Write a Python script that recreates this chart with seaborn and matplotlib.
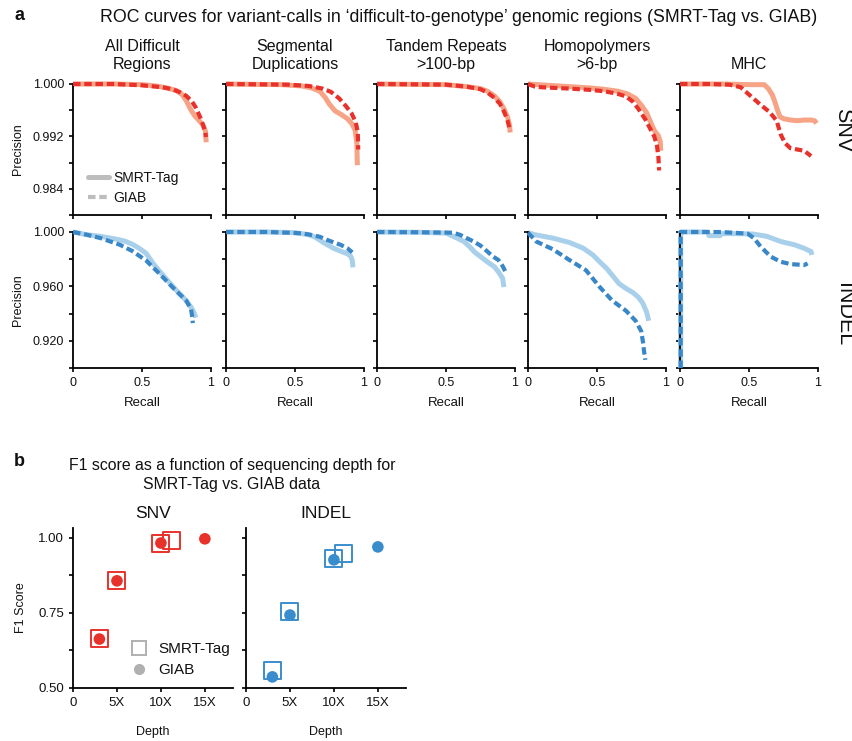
import numpy as np
import pandas as pd
import matplotlib
matplotlib.use("Agg")
import matplotlib.pyplot as plt
from matplotlib.lines import Line2D
import seaborn as sns

# ---------------- data ----------------
regions = ["All Difficult\nRegions", "Segmental\nDuplications", "Tandem Repeats\n>100-bp",
           "Homopolymers\n>6-bp", "MHC"]

# SNV (SMRT-Tag / GIAB)  recall, precision
snv_all_smrt_r = [0, 0.3, 0.5, 0.6, 0.68, 0.75, 0.79, 0.82, 0.85, 0.88, 0.91, 0.94, 0.96, 0.965]
snv_all_smrt_p = [1.0, 1.0, 0.9999, 0.9997, 0.9994, 0.9990, 0.9984, 0.9975, 0.9962, 0.9952, 0.9945, 0.9938, 0.9928, 0.9911]
snv_all_giab_r = [0, 0.3, 0.5, 0.65, 0.72, 0.78, 0.82, 0.86, 0.89, 0.92, 0.945, 0.96, 0.963]
snv_all_giab_p = [1.0, 1.0, 0.9998, 0.9995, 0.9992, 0.9987, 0.9982, 0.9974, 0.9964, 0.9950, 0.9936, 0.9926, 0.9919]

snv_seg_smrt_r = [0, 0.4, 0.55, 0.62, 0.68, 0.72, 0.75, 0.79, 0.83, 0.88, 0.91, 0.935, 0.948, 0.952]
snv_seg_smrt_p = [1.0, 0.9999, 0.9997, 0.9994, 0.9989, 0.9979, 0.9969, 0.9959, 0.9954, 0.9947, 0.9940, 0.9930, 0.9910, 0.9876]
snv_seg_giab_r = [0, 0.45, 0.6, 0.7, 0.76, 0.82, 0.87, 0.91, 0.94, 0.955, 0.958]
snv_seg_giab_p = [1.0, 0.9999, 0.9997, 0.9993, 0.9988, 0.9978, 0.9966, 0.9955, 0.9942, 0.9926, 0.9900]

snv_tr_smrt_r = [0, 0.5, 0.65, 0.75, 0.80, 0.85, 0.89, 0.92, 0.945, 0.96, 0.965]
snv_tr_smrt_p = [1.0, 0.9999, 0.9996, 0.9993, 0.9989, 0.9982, 0.9973, 0.9962, 0.9950, 0.9938, 0.9926]
snv_tr_giab_r = [0, 0.5, 0.65, 0.75, 0.80, 0.85, 0.89, 0.92, 0.945, 0.958, 0.962]
snv_tr_giab_p = [1.0, 0.9999, 0.9996, 0.9992, 0.9987, 0.9979, 0.9970, 0.9958, 0.9945, 0.9934, 0.9928]

snv_hp_smrt_r = [0, 0.15, 0.3, 0.45, 0.55, 0.65, 0.72, 0.78, 0.82, 0.86, 0.88, 0.915, 0.945, 0.958, 0.962]
snv_hp_smrt_p = [1.0, 0.9998, 0.9996, 0.9994, 0.9992, 0.9989, 0.9985, 0.9978, 0.9968, 0.9956, 0.9946, 0.9929, 0.9921, 0.9912, 0.9898]
snv_hp_giab_r = [0, 0.05, 0.1, 0.3, 0.45, 0.55, 0.65, 0.71, 0.76, 0.8, 0.85, 0.89, 0.915, 0.935, 0.945, 0.95]
snv_hp_giab_p = [1.0, 0.9996, 0.9995, 0.9993, 0.9991, 0.9989, 0.9985, 0.9981, 0.9973, 0.9962, 0.9946, 0.9930, 0.9920, 0.9905, 0.9888, 0.9868]

snv_mhc_smrt_r = [0, 0.3, 0.5, 0.61, 0.64, 0.67, 0.69, 0.71, 0.725, 0.75, 0.8, 0.85, 0.9, 0.95, 0.975, 0.99]
snv_mhc_smrt_p = [1.0, 1.0, 0.9999, 0.9999, 0.9993, 0.9983, 0.9971, 0.9958, 0.9950, 0.9947, 0.9945, 0.9944, 0.9945, 0.9945, 0.9944, 0.9940]
snv_mhc_giab_r = [0, 0.2, 0.36, 0.44, 0.51, 0.58, 0.65, 0.7, 0.73, 0.76, 0.8, 0.85, 0.9, 0.95]
snv_mhc_giab_p = [1.0, 1.0, 0.9999, 0.9995, 0.9982, 0.9969, 0.9957, 0.9944, 0.9923, 0.9910, 0.9902, 0.9900, 0.9898, 0.9890]

# INDEL
ind_all_smrt_r = [0, 0.1, 0.2, 0.3, 0.37, 0.43, 0.48, 0.53, 0.58, 0.62, 0.68, 0.75, 0.82, 0.86, 0.88, 0.89]
ind_all_smrt_p = [1.0, 0.998, 0.9968, 0.995, 0.9935, 0.991, 0.988, 0.9843, 0.977, 0.972, 0.965, 0.957, 0.9496, 0.944, 0.940, 0.937]
ind_all_giab_r = [0, 0.1, 0.2, 0.34, 0.43, 0.53, 0.63, 0.72, 0.82, 0.855, 0.865, 0.868]
ind_all_giab_p = [1.0, 0.998, 0.9955, 0.9906, 0.986, 0.979, 0.969, 0.9595, 0.9496, 0.9434, 0.937, 0.933]

ind_seg_smrt_r = [0, 0.3, 0.5, 0.6, 0.65, 0.71, 0.78, 0.84, 0.88, 0.905, 0.915, 0.92]
ind_seg_smrt_p = [1.0, 1.0, 0.9995, 0.998, 0.996, 0.992, 0.988, 0.9855, 0.984, 0.982, 0.979, 0.974]
ind_seg_giab_r = [0, 0.3, 0.45, 0.55, 0.61, 0.68, 0.73, 0.79, 0.83, 0.88, 0.915]
ind_seg_giab_p = [1.0, 1.0, 0.9995, 0.999, 0.998, 0.9965, 0.9943, 0.992, 0.9906, 0.988, 0.985]

ind_tr_smrt_r = [0, 0.3, 0.5, 0.58, 0.63, 0.67, 0.71, 0.75, 0.8, 0.85, 0.88, 0.91, 0.92]
ind_tr_smrt_p = [1.0, 0.9998, 0.9992, 0.9955, 0.993, 0.9893, 0.985, 0.9819, 0.978, 0.9745, 0.9707, 0.966, 0.9595]
ind_tr_giab_r = [0, 0.3, 0.55, 0.6, 0.65, 0.70, 0.75, 0.8, 0.84, 0.88, 0.91, 0.93]
ind_tr_giab_p = [1.0, 0.9998, 0.9995, 0.998, 0.9955, 0.993, 0.99, 0.9856, 0.982, 0.9794, 0.975, 0.971]

ind_hp_smrt_r = [0, 0.05, 0.18, 0.3, 0.4, 0.47, 0.52, 0.57, 0.62, 0.66, 0.71, 0.76, 0.8, 0.83, 0.86, 0.875]
ind_hp_smrt_p = [0.9995, 0.998, 0.9955, 0.9923, 0.9881, 0.9831, 0.978, 0.9732, 0.967, 0.962, 0.9585, 0.9555, 0.952, 0.948, 0.941, 0.9347]
ind_hp_giab_r = [0, 0.06, 0.18, 0.3, 0.42, 0.52, 0.61, 0.71, 0.78, 0.82, 0.835, 0.84, 0.85]
ind_hp_giab_p = [0.9995, 0.993, 0.9873, 0.9794, 0.9719, 0.9595, 0.9496, 0.9421, 0.9347, 0.9272, 0.918, 0.913, 0.906]

ind_mhc_smrt_r = [0.005, 0.005, 0.2, 0.21, 0.29, 0.3, 0.41, 0.53, 0.63, 0.73, 0.83, 0.9, 0.95, 0.955]
ind_mhc_smrt_p = [0.9, 1.0, 1.0, 0.9973, 0.9973, 0.9988, 0.9988, 0.9985, 0.9968, 0.993, 0.9906, 0.988, 0.9856, 0.9831]
ind_mhc_giab_r = [0.005, 0.005, 0.3, 0.49, 0.535, 0.584, 0.657, 0.73, 0.8, 0.9, 0.925]
ind_mhc_giab_p = [0.9, 1.0, 1.0, 0.9988, 0.9955, 0.9893, 0.9819, 0.9781, 0.9764, 0.9757, 0.9769]

# Part b: F1 vs depth
depth_ticks = [0, 5, 10, 15]
depth_labels = ["0", "5X", "10X", "15X"]
snv_f1_smrt_depth = [3, 5, 10, 11.2]
snv_f1_smrt = [0.665, 0.857, 0.983, 0.99]
snv_f1_giab_depth = [3, 5, 10, 15]
snv_f1_giab = [0.663, 0.857, 0.983, 0.997]
ind_f1_smrt_depth = [3, 5, 10, 11.1]
ind_f1_smrt = [0.557, 0.756, 0.932, 0.947]
ind_f1_giab_depth = [3, 5, 10, 15]
ind_f1_giab = [0.537, 0.743, 0.927, 0.97]

# ---------------- style ----------------
sns.set_style("ticks")
plt.rcParams["font.family"] = ["Liberation Sans", "DejaVu Sans"]
plt.rcParams["axes.linewidth"] = 1.3
plt.rcParams["axes.edgecolor"] = "black"
plt.rcParams["text.color"] = "#111111"
plt.rcParams["axes.labelcolor"] = "#111111"
plt.rcParams["xtick.color"] = "black"
plt.rcParams["ytick.color"] = "black"
plt.rcParams["xtick.labelcolor"] = "#111111"
plt.rcParams["ytick.labelcolor"] = "#111111"
plt.rcParams["xtick.major.width"] = 1.2
plt.rcParams["ytick.major.width"] = 1.2
plt.rcParams["xtick.major.size"] = 3
plt.rcParams["ytick.major.size"] = 3
plt.rcParams["xtick.direction"] = "out"
plt.rcParams["ytick.direction"] = "out"

SNV_SOLID = "#F6A386"
SNV_DASH = "#E8312B"
IND_SOLID = "#A9D0EA"
IND_DASH = "#3A87C8"
B_RED = "#E8312B"
B_BLUE = "#3A8DCC"

W, H = 852, 741
fig = plt.figure(figsize=(W / 100, H / 100), dpi=100)


def axes_px(left, top, width, height):
    return fig.add_axes([left / W, 1 - (top + height) / H, width / W, height / H])


lefts = [73, 226, 377, 528, 680]
pw = 138
dash_style = (0, (1.8, 0.9))

snv_series = [
    (snv_all_smrt_r, snv_all_smrt_p, snv_all_giab_r, snv_all_giab_p),
    (snv_seg_smrt_r, snv_seg_smrt_p, snv_seg_giab_r, snv_seg_giab_p),
    (snv_tr_smrt_r, snv_tr_smrt_p, snv_tr_giab_r, snv_tr_giab_p),
    (snv_hp_smrt_r, snv_hp_smrt_p, snv_hp_giab_r, snv_hp_giab_p),
    (snv_mhc_smrt_r, snv_mhc_smrt_p, snv_mhc_giab_r, snv_mhc_giab_p),
]
ind_series = [
    (ind_all_smrt_r, ind_all_smrt_p, ind_all_giab_r, ind_all_giab_p),
    (ind_seg_smrt_r, ind_seg_smrt_p, ind_seg_giab_r, ind_seg_giab_p),
    (ind_tr_smrt_r, ind_tr_smrt_p, ind_tr_giab_r, ind_tr_giab_p),
    (ind_hp_smrt_r, ind_hp_smrt_p, ind_hp_giab_r, ind_hp_giab_p),
    (ind_mhc_smrt_r, ind_mhc_smrt_p, ind_mhc_giab_r, ind_mhc_giab_p),
]


def draw_roc(ax, series, c_solid, c_dash):
    sr, sp, gr, gp = series
    d1 = pd.DataFrame({"Recall": sr, "Precision": sp})
    d2 = pd.DataFrame({"Recall": gr, "Precision": gp})
    sns.lineplot(data=d1, x="Recall", y="Precision", ax=ax, color=c_solid, lw=3.6,
                 estimator=None, sort=False, clip_on=False, solid_capstyle="butt", zorder=2)
    sns.lineplot(data=d2, x="Recall", y="Precision", ax=ax, color=c_dash, lw=3.0,
                 estimator=None, sort=False, clip_on=False, linestyle=dash_style,
                 dash_capstyle="butt", zorder=3)


for i in range(5):
    # SNV row
    ax = axes_px(lefts[i], 84, pw, 131)
    draw_roc(ax, snv_series[i], SNV_SOLID, SNV_DASH)
    ax.set_xlim(0, 1)
    ax.set_ylim(0.980, 1.000)
    ax.set_xticks([0, 0.5, 1])
    ax.set_xticklabels([])
    yt = [0.980, 0.984, 0.988, 0.992, 0.996, 1.000]
    ax.set_yticks(yt)
    if i == 0:
        ax.set_yticklabels(["", "0.984", "", "0.992", "", "1.000"], fontsize=9)
        ax.set_ylabel("Precision", fontsize=9, labelpad=6)
        handles = [Line2D([], [], color="#BDBDBD", lw=3.6),
                   Line2D([], [], color="#BDBDBD", lw=3.0, linestyle=dash_style)]
        ax.legend(handles, ["SMRT-Tag", "GIAB"], loc="lower left",
                  bbox_to_anchor=(0.02, -0.02), frameon=False, fontsize=10,
                  handlelength=1.5, handletextpad=0.3, labelspacing=0.45)
    else:
        ax.set_yticklabels([])
        ax.set_ylabel("")
    ax.set_xlabel("")
    ax.set_title(regions[i], fontsize=11.5, pad=11, linespacing=1.2)
    sns.despine(ax=ax)

    # INDEL row
    ax2 = axes_px(lefts[i], 232, pw, 136)
    draw_roc(ax2, ind_series[i], IND_SOLID, IND_DASH)
    ax2.set_xlim(0, 1)
    ax2.set_ylim(0.90, 1.00)
    ax2.set_xticks([0, 0.5, 1])
    ax2.set_xticklabels(["0", "0.5", "1"], fontsize=9)
    ax2.set_yticks([0.90, 0.92, 0.94, 0.96, 0.98, 1.00])
    if i == 0:
        ax2.set_yticklabels(["", "0.920", "", "0.960", "", "1.000"], fontsize=9)
        ax2.set_ylabel("Precision", fontsize=9, labelpad=6)
    else:
        ax2.set_yticklabels([])
        ax2.set_ylabel("")
    ax2.set_xlabel("Recall", fontsize=9.5, labelpad=6)
    sns.despine(ax=ax2)

fig.text(14 / W, 1 - 16 / H, "a", fontsize=13, fontweight="bold", va="center", ha="left")
fig.text(459 / W, 1 - 18 / H,
         "ROC curves for variant-calls in \u2018difficult-to-genotype\u2019 genomic regions (SMRT-Tag vs. GIAB)",
         fontsize=12.8, va="center", ha="center")
fig.text(843 / W, 1 - 130 / H, "SNV", fontsize=15.5, rotation=-90, va="center", ha="center")
fig.text(843 / W, 1 - 315 / H, "INDEL", fontsize=15.5, rotation=-90, va="center", ha="center")

# ---------------- part b ----------------
fig.text(14 / W, 1 - 462 / H, "b", fontsize=13, fontweight="bold", va="center", ha="left")
fig.text(232 / W, 1 - 475 / H, "F1 score as a function of sequencing depth for\nSMRT-Tag vs. GIAB data",
         fontsize=11.4, va="center", ha="center", linespacing=1.35)

b_specs = [
    ("SNV", 73, snv_f1_smrt_depth, snv_f1_smrt, snv_f1_giab_depth, snv_f1_giab, B_RED),
    ("INDEL", 246, ind_f1_smrt_depth, ind_f1_smrt, ind_f1_giab_depth, ind_f1_giab, B_BLUE),
]
for j, (name, left, sd, sv, gd, gv, col) in enumerate(b_specs):
    ax = axes_px(left, 528, 160, 160)
    sns.scatterplot(x=gd, y=gv, ax=ax, color=col, s=70, marker="o", edgecolor="none",
                    zorder=3, clip_on=False)
    sns.scatterplot(x=sd, y=sv, ax=ax, marker="s", s=150, facecolor="none",
                    edgecolor=col, linewidth=1.4, zorder=4, clip_on=False)
    ax.set_xlim(0, 18.2)
    ax.set_ylim(0.5, 1.033)
    ax.set_xticks(depth_ticks)
    ax.set_xticklabels(depth_labels, fontsize=9.5)
    ax.set_yticks([0.5, 0.625, 0.75, 0.875, 1.0])
    if j == 0:
        ax.set_yticklabels(["0.50", "", "0.75", "", "1.00"], fontsize=9.5)
        ax.set_ylabel("F1 Score", fontsize=9, labelpad=8)
        handles = [Line2D([], [], marker="s", ls="none", markersize=10, markerfacecolor="none",
                          markeredgecolor="#B0B0B0", markeredgewidth=1.4),
                   Line2D([], [], marker="o", ls="none", markersize=8, markerfacecolor="#B0B0B0",
                          markeredgecolor="none")]
        ax.legend(handles, ["SMRT-Tag", "GIAB"], loc="lower left",
                  bbox_to_anchor=(0.25, 0.0), frameon=False, fontsize=11,
                  handletextpad=0.25, labelspacing=0.45, borderpad=0.2)
    else:
        ax.set_yticklabels([])
        ax.set_ylabel("")
    ax.set_xlabel("Depth", fontsize=9, labelpad=12)
    ax.set_title(name, fontsize=12.5, pad=7)
    sns.despine(ax=ax)

fig.savefig("out.png", dpi=100)
